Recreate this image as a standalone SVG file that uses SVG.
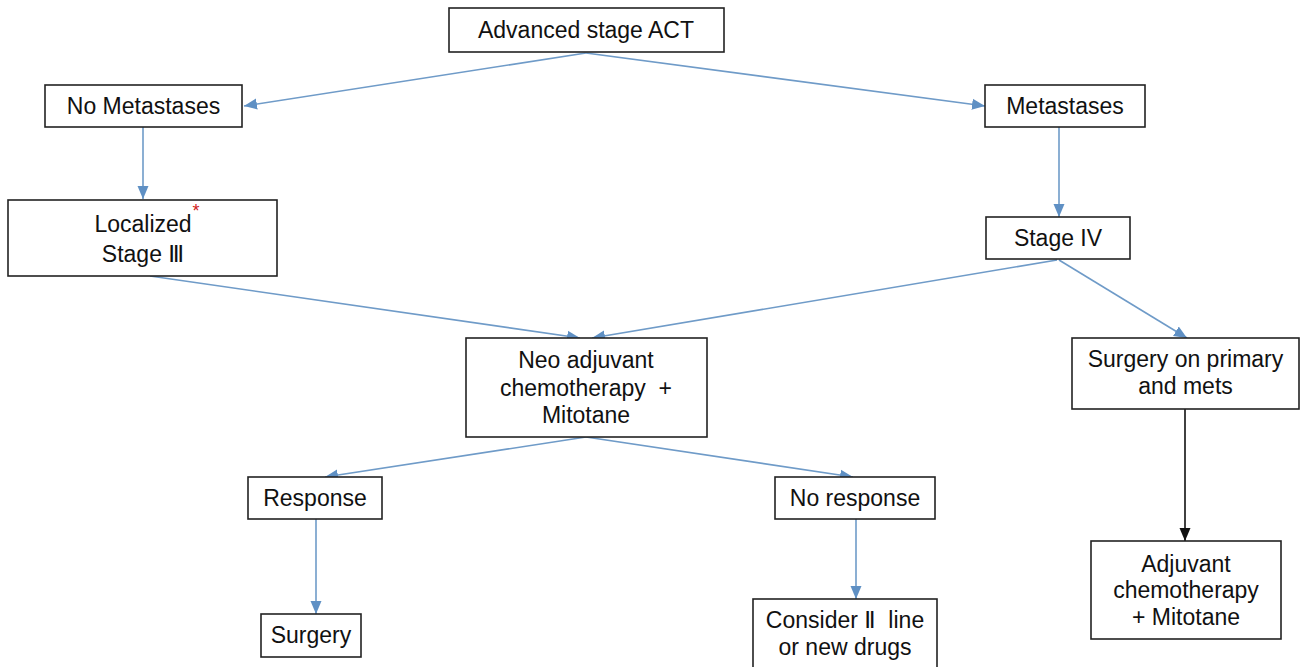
<svg xmlns="http://www.w3.org/2000/svg" width="1300" height="667" viewBox="0 0 1300 667">
<style>
.box{fill:#fff;stroke:#222;stroke-width:1.6}
.t{font-family:"Liberation Sans",Arial,"DejaVu Sans",sans-serif;font-size:23px;fill:#111;text-anchor:middle;white-space:pre}
.c{fill:none;stroke:#6f9bc8;stroke-width:1.6}
.k{fill:none;stroke:#111;stroke-width:1.6}
</style>
<defs>
<marker id="ab" markerUnits="userSpaceOnUse" markerWidth="14" markerHeight="14" viewBox="0 0 14 14" refX="13" refY="7" orient="auto">
<path d="M0,1.5 L13,7 L0,12.5 Z" fill="#5f90c4"/>
</marker>
<marker id="ak" markerUnits="userSpaceOnUse" markerWidth="14" markerHeight="14" viewBox="0 0 14 14" refX="13" refY="7" orient="auto">
<path d="M0,1.5 L13,7 L0,12.5 Z" fill="#111"/>
</marker>
</defs>
<rect width="1300" height="667" fill="#fff"/>
<g id="connectors">
<line class="c" x1="586" y1="53" x2="244" y2="106" marker-end="url(#ab)"/>
<line class="c" x1="586" y1="53" x2="985" y2="106" marker-end="url(#ab)"/>
<line class="c" x1="143" y1="127" x2="143" y2="199" marker-end="url(#ab)"/>
<line class="c" x1="1059" y1="127" x2="1059" y2="217" marker-end="url(#ab)"/>
<line class="c" x1="150" y1="276" x2="580" y2="338" marker-end="url(#ab)"/>
<line class="c" x1="1057" y1="260" x2="592" y2="338" marker-end="url(#ab)"/>
<line class="c" x1="1059" y1="260" x2="1187" y2="338" marker-end="url(#ab)"/>
<line class="c" x1="586" y1="437" x2="325" y2="477" marker-end="url(#ab)"/>
<line class="c" x1="586" y1="437" x2="853" y2="477" marker-end="url(#ab)"/>
<line class="c" x1="316" y1="519" x2="316" y2="614" marker-end="url(#ab)"/>
<line class="c" x1="856" y1="519" x2="856" y2="599" marker-end="url(#ab)"/>
<line class="k" x1="1185" y1="409" x2="1185" y2="541" marker-end="url(#ak)"/>
</g>
<g id="advanced">
<rect class="box" x="449" y="8" width="275" height="44"/>
<text class="t" x="586" y="38">Advanced stage ACT</text>
</g>
<g id="no-metastases">
<rect class="box" x="45" y="85" width="197" height="42"/>
<text class="t" x="143.5" y="114">No Metastases</text>
</g>
<g id="metastases">
<rect class="box" x="985" y="85" width="160" height="42"/>
<text class="t" x="1065" y="114">Metastases</text>
</g>
<g id="localized">
<rect class="box" x="8" y="200" width="269" height="76"/>
<text class="t" x="143" y="232">Localized</text>
<text x="196" y="217" font-family="Liberation Sans,Arial,sans-serif" font-size="18" fill="#d02020" text-anchor="middle">*</text>
<text class="t" x="143" y="262">Stage Ⅲ</text>
</g>
<g id="stage-iv">
<rect class="box" x="986" y="217" width="144" height="42"/>
<text class="t" x="1058" y="246">Stage IV</text>
</g>
<g id="neo">
<rect class="box" x="466" y="338" width="241" height="99"/>
<text class="t" x="586" y="368">Neo adjuvant</text>
<text class="t" x="586" y="396">chemotherapy  +</text>
<text class="t" x="586" y="423">Mitotane</text>
</g>
<g id="surgery-primary">
<rect class="box" x="1072" y="338" width="227" height="71"/>
<text class="t" x="1185.5" y="367">Surgery on primary</text>
<text class="t" x="1185.5" y="394">and mets</text>
</g>
<g id="response">
<rect class="box" x="248" y="477" width="134" height="42"/>
<text class="t" x="315" y="506">Response</text>
</g>
<g id="no-response">
<rect class="box" x="775" y="477" width="160" height="42"/>
<text class="t" x="855" y="506">No response</text>
</g>
<g id="surgery">
<rect class="box" x="261" y="614" width="100" height="43"/>
<text class="t" x="311" y="643">Surgery</text>
</g>
<g id="consider">
<rect class="box" x="753" y="599" width="184" height="72"/>
<text class="t" x="845" y="628">Consider Ⅱ  line</text>
<text class="t" x="845" y="655">or new drugs</text>
</g>
<g id="adjuvant">
<rect class="box" x="1091" y="541" width="190" height="98"/>
<text class="t" x="1186" y="572">Adjuvant</text>
<text class="t" x="1186" y="598">chemotherapy</text>
<text class="t" x="1186" y="625">+ Mitotane</text>
</g>
</svg>
